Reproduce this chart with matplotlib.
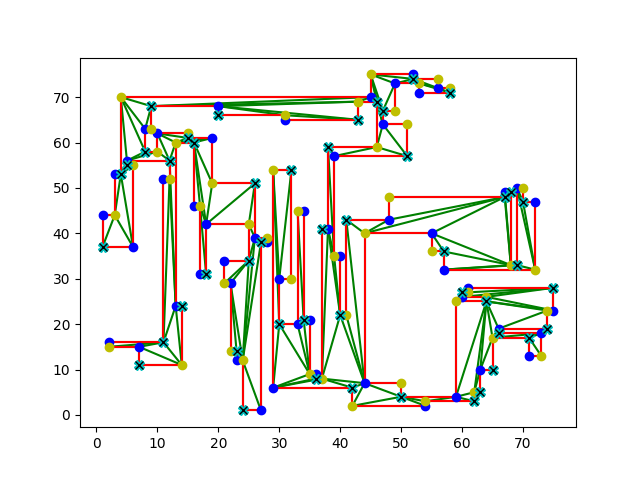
import matplotlib
matplotlib.use("Agg")
import matplotlib.pyplot as plt

# orthogonal polygon, vertices in order, with their colour class
poly = [
    (4, 70, 'y'), (45, 70, 'b'), (45, 75, 'y'), (52, 75, 'b'), (52, 74, 'c'),
    (56, 74, 'y'), (56, 72, 'b'), (58, 72, 'y'), (58, 71, 'c'), (53, 71, 'b'),
    (53, 73, 'y'), (49, 73, 'b'), (49, 67, 'y'), (47, 67, 'c'), (47, 64, 'b'),
    (51, 64, 'y'), (51, 57, 'c'), (39, 57, 'b'), (39, 35, 'y'), (40, 35, 'b'),
    (40, 22, 'c'), (41, 22, 'y'), (41, 43, 'c'), (48, 43, 'b'), (48, 48, 'y'),
    (67, 48, 'c'), (67, 49, 'b'), (68, 49, 'c'), (68, 33, 'y'), (69, 33, 'c'),
    (69, 50, 'b'), (70, 50, 'y'), (70, 47, 'c'), (72, 47, 'b'), (72, 32, 'y'),
    (57, 32, 'b'), (57, 36, 'c'), (55, 36, 'y'), (55, 40, 'b'), (44, 40, 'y'),
    (44, 7, 'b'), (50, 7, 'y'), (50, 4, 'c'), (59, 4, 'b'), (59, 25, 'y'),
    (64, 25, 'c'), (64, 26, 'y'), (60, 26, 'b'), (60, 27, 'c'), (61, 27, 'y'),
    (61, 28, 'b'), (75, 28, 'c'), (75, 23, 'b'), (74, 23, 'y'), (74, 19, 'c'),
    (66, 19, 'b'), (66, 18, 'c'), (73, 18, 'b'), (73, 13, 'y'), (71, 13, 'b'),
    (71, 17, 'c'), (65, 17, 'y'), (65, 10, 'c'), (63, 10, 'b'), (63, 5, 'c'),
    (62, 5, 'y'), (62, 3, 'c'), (54, 3, 'y'), (54, 2, 'b'), (42, 2, 'y'),
    (42, 6, 'c'), (29, 6, 'b'), (29, 54, 'y'), (32, 54, 'c'), (32, 30, 'y'),
    (30, 30, 'b'), (30, 20, 'c'), (33, 20, 'b'), (33, 45, 'y'), (34, 45, 'b'),
    (34, 21, 'c'), (35, 21, 'b'), (35, 9, 'y'), (36, 9, 'b'), (36, 8, 'c'),
    (37, 8, 'y'), (37, 41, 'c'), (38, 41, 'b'), (38, 59, 'c'), (46, 59, 'y'),
    (46, 69, 'c'), (43, 69, 'y'), (43, 65, 'c'), (31, 65, 'b'), (31, 66, 'y'),
    (20, 66, 'c'), (20, 68, 'b'), (9, 68, 'c'), (9, 63, 'y'), (8, 63, 'b'),
    (8, 58, 'c'), (10, 58, 'y'), (10, 62, 'b'), (15, 62, 'y'), (15, 61, 'c'),
    (19, 61, 'b'), (19, 51, 'y'), (26, 51, 'c'), (26, 39, 'b'), (28, 39, 'y'),
    (28, 38, 'b'), (27, 38, 'c'), (27, 1, 'b'), (24, 1, 'c'), (24, 12, 'y'),
    (23, 12, 'b'), (23, 14, 'c'), (22, 14, 'y'), (22, 29, 'b'), (21, 29, 'y'),
    (21, 34, 'b'), (25, 34, 'c'), (25, 42, 'y'), (18, 42, 'b'), (18, 31, 'c'),
    (17, 31, 'b'), (17, 46, 'y'), (16, 46, 'b'), (16, 60, 'c'), (13, 60, 'y'),
    (13, 24, 'b'), (14, 24, 'c'), (14, 11, 'y'), (7, 11, 'c'), (7, 15, 'b'),
    (2, 15, 'y'), (2, 16, 'b'), (11, 16, 'c'), (11, 52, 'b'), (12, 52, 'y'),
    (12, 56, 'c'), (5, 56, 'b'), (5, 55, 'c'), (6, 55, 'y'), (6, 37, 'b'),
    (1, 37, 'c'), (1, 44, 'b'), (3, 44, 'y'), (3, 53, 'b'), (4, 53, 'c'),
]

# triangulation diagonals (pairs of polygon vertices)
diagonals = [
    # left part
    ((4, 70), (9, 68)), ((4, 70), (8, 63)), ((8, 63), (9, 68)), ((4, 70), (8, 58)),
    ((4, 70), (5, 56)), ((5, 56), (8, 58)), ((5, 56), (10, 58)), ((10, 58), (12, 56)),
    ((10, 62), (12, 56)), ((12, 56), (13, 60)), ((10, 62), (13, 60)), ((10, 62), (15, 61)),
    ((13, 60), (15, 61)), ((13, 60), (19, 61)), ((16, 60), (19, 61)), ((16, 60), (19, 51)),
    ((16, 60), (18, 42)), ((18, 42), (19, 51)), ((18, 42), (26, 51)), ((25, 42), (26, 51)),
    ((25, 42), (26, 39)), ((25, 34), (26, 39)), ((26, 39), (24, 12)), ((25, 34), (24, 12)),
    ((24, 12), (27, 38)), ((26, 39), (27, 38)), ((28, 39), (27, 38)), ((24, 12), (27, 1)),
    ((22, 29), (25, 34)), ((22, 29), (24, 12)), ((22, 29), (23, 14)), ((23, 14), (24, 12)),
    ((21, 29), (25, 34)), ((16, 60), (17, 46)), ((17, 46), (18, 42)), ((17, 46), (18, 31)),
    ((12, 56), (13, 24)), ((12, 52), (13, 24)), ((12, 52), (11, 16)), ((11, 16), (13, 24)),
    ((13, 24), (14, 11)), ((11, 16), (14, 11)), ((7, 15), (14, 11)), ((7, 15), (11, 16)),
    ((2, 15), (11, 16)), ((4, 53), (5, 56)), ((4, 53), (6, 55)), ((5, 56), (6, 55)),
    ((4, 53), (6, 37)), ((4, 53), (3, 44)), ((3, 44), (6, 37)), ((3, 44), (1, 37)),
    # top corridor and upper right
    ((9, 68), (45, 70)), ((9, 68), (43, 69)), ((20, 68), (43, 69)), ((20, 68), (43, 65)),
    ((20, 68), (31, 66)), ((31, 66), (43, 65)), ((43, 69), (45, 70)), ((45, 70), (46, 69)),
    ((45, 75), (46, 69)), ((45, 75), (47, 64)), ((46, 69), (47, 64)), ((45, 75), (47, 67)),
    ((47, 67), (49, 73)), ((45, 75), (49, 73)), ((49, 73), (52, 74)), ((45, 75), (52, 74)),
    ((52, 74), (53, 73)), ((52, 74), (56, 72)), ((53, 73), (56, 72)), ((56, 72), (58, 71)),
    ((53, 73), (58, 71)), ((46, 59), (47, 64)), ((47, 64), (51, 57)), ((46, 59), (51, 57)),
    ((46, 59), (39, 57)), ((38, 59), (39, 57)), ((38, 59), (39, 35)), ((38, 41), (39, 35)),
    ((38, 41), (40, 22)), ((39, 35), (40, 22)), ((38, 41), (37, 8)), ((37, 8), (40, 22)),
    ((40, 22), (44, 7)), ((37, 8), (44, 7)), ((41, 22), (44, 7)), ((41, 43), (44, 7)),
    ((41, 43), (44, 40)), ((44, 40), (48, 43)), ((48, 43), (67, 48)), ((44, 40), (67, 48)),
    ((55, 40), (67, 48)), ((67, 48), (68, 33)), ((55, 40), (68, 33)), ((67, 49), (68, 33)),
    ((55, 40), (57, 36)), ((57, 36), (68, 33)), ((57, 32), (68, 33)), ((57, 32), (69, 33)),
    ((69, 33), (72, 32)), ((69, 50), (72, 32)), ((70, 47), (72, 32)), ((69, 50), (70, 47)),
    # bottom
    ((37, 8), (42, 6)), ((42, 6), (44, 7)), ((42, 2), (44, 7)), ((42, 2), (50, 4)),
    ((44, 7), (50, 4)), ((50, 4), (54, 2)), ((50, 4), (54, 3)), ((54, 3), (59, 4)),
    ((62, 3), (59, 4)), ((62, 5), (59, 4)), ((62, 5), (64, 25)), ((59, 4), (64, 25)),
    ((62, 5), (63, 10)), ((63, 10), (64, 25)), ((63, 10), (65, 17)), ((65, 17), (64, 25)),
    ((65, 17), (66, 19)), ((64, 25), (66, 19)), ((65, 17), (66, 18)), ((65, 17), (73, 18)),
    ((71, 17), (73, 18)), ((71, 17), (73, 13)), ((66, 19), (74, 23)), ((64, 25), (74, 23)),
    ((64, 25), (75, 23)), ((64, 26), (75, 23)), ((64, 26), (75, 28)), ((60, 26), (75, 28)),
    ((61, 27), (75, 28)), ((60, 26), (61, 27)),
    # middle
    ((30, 20), (35, 9)), ((33, 20), (35, 9)), ((34, 21), (35, 9)), ((33, 45), (34, 21)),
    ((34, 21), (33, 20)), ((35, 9), (36, 8)), ((29, 6), (35, 9)), ((29, 6), (36, 8)),
    ((29, 6), (37, 8)), ((29, 6), (30, 20)), ((29, 54), (30, 20)), ((29, 54), (30, 30)),
    ((30, 30), (32, 54)),
]

xs = [p[0] for p in poly]
ys = [p[1] for p in poly]
cs = [p[2] for p in poly]
lookup = {(p[0], p[1]): i for i, p in enumerate(poly)}

fig, ax = plt.subplots(figsize=(6.4, 4.8), dpi=100)

# triangle edges in green (sides too), polygon outline in red on top
ax.plot(xs + [xs[0]], ys + [ys[0]], 'g-')
for a, b in diagonals:
    i, j = lookup[a], lookup[b]
    ax.plot([xs[i], xs[j]], [ys[i], ys[j]], 'g-')

ax.plot(xs + [xs[0]], ys + [ys[0]], 'r-')

for col in ['b', 'y']:
    px = [x for x, c in zip(xs, cs) if c == col]
    py = [y for y, c in zip(ys, cs) if c == col]
    ax.plot(px, py, col + 'o', linestyle='none')

gx = [x for x, c in zip(xs, cs) if c == 'c']
gy = [y for y, c in zip(ys, cs) if c == 'c']
ax.plot(gx, gy, 'cX', linestyle='none', markersize=7)
ax.plot(gx, gy, 'kx', linestyle='none')

fig.savefig('out.png')
